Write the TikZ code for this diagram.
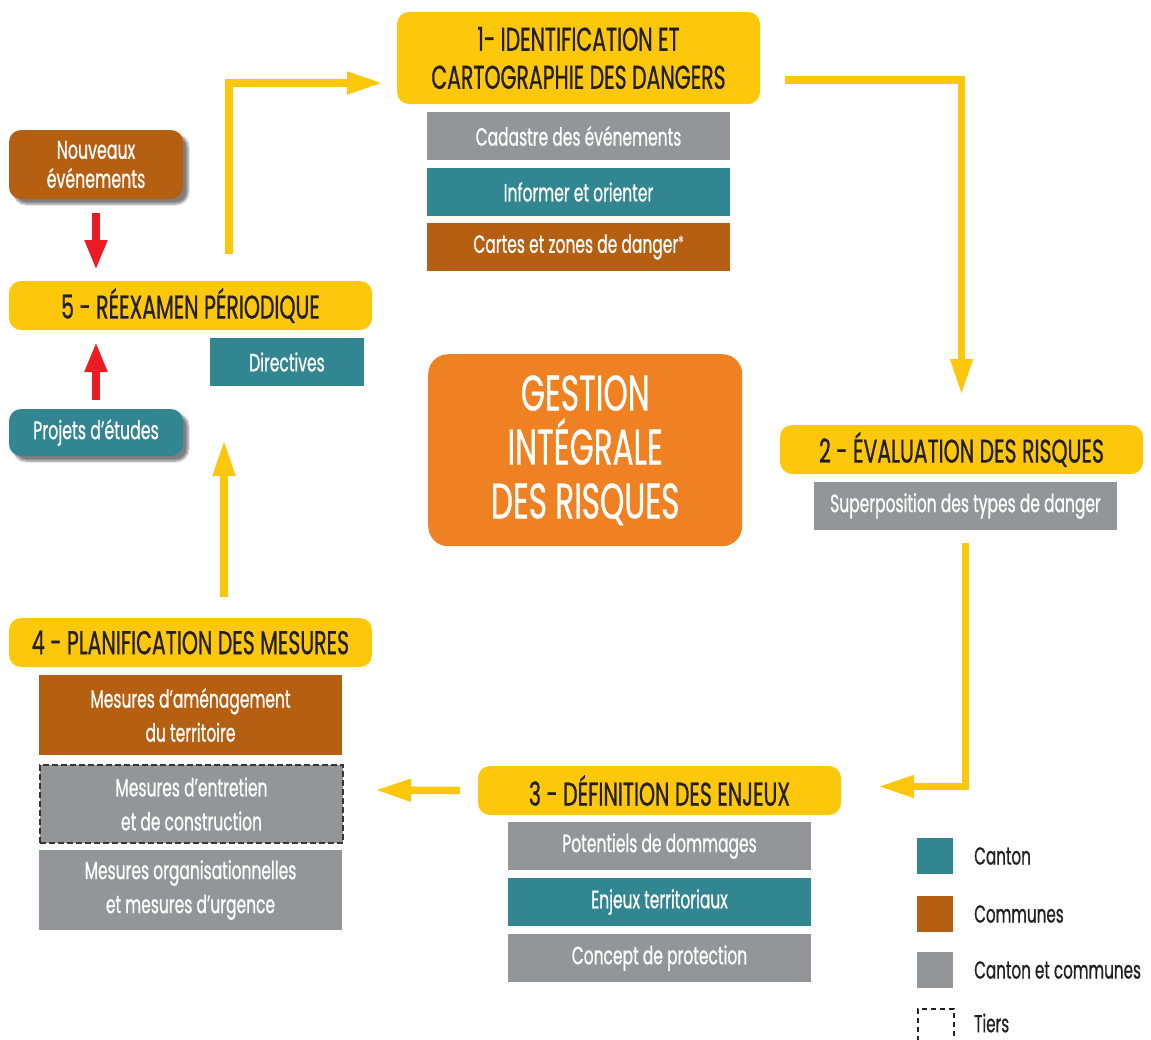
\documentclass[tikz,border=0pt]{standalone}
\usepackage{fontspec}
\setmainfont[FakeStretch=0.62,FakeBold=0.7]{Poppins}
\usetikzlibrary{arrows.meta,shadows.blur}
\definecolor{cyel}{HTML}{FDC80B}
\definecolor{cteal}{HTML}{318691}
\definecolor{cbrown}{HTML}{B55F12}
\definecolor{cgray}{HTML}{939598}
\definecolor{corange}{HTML}{F08122}
\definecolor{cred}{HTML}{ED1C24}
\definecolor{ctext}{HTML}{231F20}
\begin{document}
\begin{tikzpicture}[x=1pt,y=-1pt,
  title/.style={fill=cyel, rounded corners=12pt, inner sep=0pt, outer sep=0pt, minimum width=363pt, minimum height=49pt, font=\fontsize{33}{38}\selectfont, text=ctext, align=center, anchor=north west},
  sub/.style={inner sep=0pt, outer sep=0pt, minimum width=303pt, minimum height=48pt, text=white, font=\fontsize{25}{34}\selectfont, align=center, anchor=north west},
  side/.style={inner sep=0pt, outer sep=0pt, minimum width=174pt, rounded corners=12pt, text=white, font=\fontsize{25.5}{29}\selectfont, align=center, anchor=north west, blur shadow={shadow xshift=5pt, shadow yshift=-5pt, shadow blur steps=6, shadow opacity=50}},
  yarrow/.style={draw=cyel, line width=7.5pt, -{Triangle[length=36pt,width=21pt]}},
  rarrow/.style={draw=cred, line width=7.5pt, -{Triangle[length=30pt,width=21pt]}},
  legsq/.style={inner sep=0pt, outer sep=0pt, minimum width=36pt, minimum height=36pt, anchor=north west},
  legtxt/.style={inner sep=0pt, anchor=west, text=ctext, font=\fontsize{24.5}{26}\selectfont}
]
\useasboundingbox (0,0) rectangle (1151,1039);

% Step 1
\node[title, minimum height=92pt] (b1) at (397,12) {1- IDENTIFICATION ET\\CARTOGRAPHIE DES DANGERS};
\node[sub, fill=cgray] (s1a) at (427,112) {Cadastre des événements};
\node[sub, fill=cteal] (s1b) at (427,168) {Informer et orienter};
\node[sub, fill=cbrown] (s1c) at (427,223) {Cartes et zones de danger\raisebox{4pt}{\fontsize{18}{18}\selectfont\color{white!85!cbrown}*}};

% Step 2
\node[title] (b2) at (780,425) {2 - ÉVALUATION DES RISQUES};
\node[sub, fill=cgray] (s2a) at (814,482) {Superposition des types de danger};

% Step 3
\node[title] (b3) at (478,766) {3 - DÉFINITION DES ENJEUX};
\node[sub, fill=cgray] (s3a) at (508,822) {Potentiels de dommages};
\node[sub, fill=cteal] (s3b) at (508,878) {Enjeux territoriaux};
\node[sub, fill=cgray] (s3c) at (508,934) {Concept de protection};

% Step 4
\node[title] (b4) at (9,618) {4 - PLANIFICATION DES MESURES};
\node[sub, fill=cbrown, minimum height=80pt] (s4a) at (39,675) {Mesures d’aménagement\\du territoire};
\node[sub, fill=cgray, minimum height=78pt, draw=ctext!90, line width=2.2pt, dash pattern=on 6pt off 3pt] (s4b) at (40,765) {Mesures d’entretien\\et de construction};
\node[sub, fill=cgray, minimum height=80pt] (s4c) at (39,850) {Mesures organisationnelles\\et mesures d’urgence};

% Step 5
\node[title] (b5) at (9,281) {5 - RÉEXAMEN PÉRIODIQUE};
\node[sub, fill=cteal, minimum width=154pt] (s5a) at (210,338) {Directives};
\node[side, fill=cbrown, minimum height=69pt] (nouv) at (9,130) {Nouveaux\\événements};
\node[side, fill=cteal, minimum height=47pt] (proj) at (9,409) {Projets d’études};

% Centre
\node[fill=corange, rounded corners=20pt, inner sep=0pt, minimum width=314pt, minimum height=192pt, anchor=north west, text=white, align=center, font=\fontsize{50}{54}\selectfont] (centre) at (428,354) {GESTION\\INTÉGRALE\\DES RISQUES};

% Yellow arrows
\draw[yarrow] ([xshift=25pt,yshift=-22pt]b1.east) -| ([yshift=30pt]b2.north);
\draw[yarrow] ([yshift=-13pt]s2a.south) |- ([xshift=37pt,yshift=4pt]b3.east);
\coordinate (a3s) at ([xshift=-18pt,yshift=0pt]b3.west);
\coordinate (a3e) at (375,790);
\draw[yarrow] (a3s) -- (a3e);
\coordinate (a4s) at (224,597);
\coordinate (a4e) at (224,440);
\draw[yarrow] (a4s) -- (a4e);
\coordinate (a5s) at (229,254);
\draw[yarrow] (a5s) |- ([xshift=-14pt,yshift=-25pt]b1.west);

% Red arrows
\draw[rarrow] ([yshift=-14pt]nouv.south) -- ([yshift=11pt]b5.north -| nouv.south);
\draw[rarrow] ([yshift=9pt]proj.north) -- ([yshift=-12pt]b5.south -| proj.north);

% Legend
\node[legsq, fill=cteal] (l1) at (917,838) {};
\node[legtxt] (l1t) at (974,856) {Canton};
\node[legsq, fill=cbrown] (l2) at (917,896) {};
\node[legtxt] (l2t) at (974,914) {Communes};
\node[legsq, fill=cgray] (l3) at (917,952) {};
\node[legtxt] (l3t) at (974,970) {Canton et communes};
\node[legsq, draw=ctext, line width=1.8pt, dash pattern=on 5pt off 4pt] (l4) at (918,1009) {};
\node[legtxt] (l4t) at (974,1023) {Tiers};
\end{tikzpicture}
\end{document}
